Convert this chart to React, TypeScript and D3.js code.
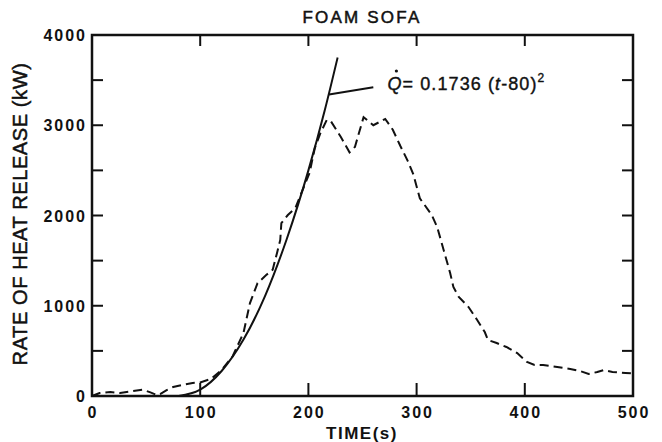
import React from 'react';
import * as d3 from 'd3';

// measured heat release curve (dashed)
const timeS = [0, 7, 17, 26, 38, 47, 54, 60, 63, 69, 75, 83, 93, 100, 110, 120, 130, 140, 146, 153, 161, 167, 171, 174, 175, 181, 188, 192, 201, 206, 211, 217, 221, 230, 238, 243, 251, 260, 271, 278, 285, 292, 297, 303, 314, 319, 325, 331, 334, 339, 348, 356, 363, 366, 374, 383, 393, 402, 409, 417, 430, 442, 451, 459, 467, 473, 481, 493, 500];
const hrrKW = [0, 33, 44, 33, 55, 70, 40, 11, 22, 66, 100, 122, 144, 150, 190, 290, 440, 700, 1030, 1250, 1340, 1400, 1585, 1730, 1915, 2005, 2084, 2205, 2470, 2750, 2910, 3060, 3040, 2870, 2700, 2760, 3090, 3000, 3070, 2950, 2770, 2600, 2455, 2190, 2006, 1873, 1618, 1363, 1208, 1097, 986, 842, 709, 620, 587, 543, 476, 377, 343, 343, 321, 299, 277, 244, 266, 288, 266, 255, 250];

// t-squared fit curve (solid)
const fitTimeS = [80, 100, 120, 140, 160, 180, 200, 215, 227];
const fitKW = [0, 70, 280, 625, 1110, 1740, 2500, 3160, 3750];

// leader line from the fit to the label
const leaderTimeS = [219, 260];
const leaderKW = [3340, 3420];

const xTicks = [0, 100, 200, 300, 400, 500];
const yTicks = [0, 500, 1000, 1500, 2000, 2500, 3000, 3500, 4000];
const yLabels = [0, 1000, 2000, 3000, 4000];

const font = '"Liberation Sans", Arial, sans-serif';

export default function App() {
  const width = 662;
  const height = 442;
  const x = d3.scaleLinear().domain([0, 500]).range([92, 633]);
  const y = d3.scaleLinear().domain([0, 4000]).range([396, 35]);

  const line = d3.line<[number, number]>()
    .x(d => x(d[0]))
    .y(d => y(d[1]));

  const dataPath = line(timeS.map((t, i) => [t, hrrKW[i]] as [number, number]));
  const fitPath = d3.line<[number, number]>()
    .curve(d3.curveMonotoneX)
    .x(d => x(d[0]))
    .y(d => y(d[1]))(fitTimeS.map((t, i) => [t, fitKW[i]] as [number, number]));

  const tickLen = 11;
  const boldText = { fontFamily: font, fontWeight: 700, fill: '#111' } as React.CSSProperties;
  // regular face thickened a little, like the scanned medium type
  const medText = { fontFamily: font, fontWeight: 400, fill: '#111', stroke: '#111', strokeWidth: 0.5 } as React.CSSProperties;

  const eqX = x(273);

  return (
    <svg width={width} height={height} style={{ position: 'absolute', left: 0, top: 0, background: '#fff' }}>
      {/* title */}
      <text x={362} y={23} textAnchor="middle" fontSize={17} letterSpacing={2.2} style={medText}>
        FOAM SOFA
      </text>

      {/* frame */}
      <rect x={x(0)} y={y(4000)} width={x(500) - x(0)} height={y(0) - y(4000)} fill="none" stroke="#111" strokeWidth={2.5} />

      {/* ticks */}
      <g stroke="#111" strokeWidth={2}>
        {xTicks.slice(1, -1).map(t => (
          <g key={'xt' + t}>
            <line x1={x(t)} x2={x(t)} y1={y(0)} y2={y(0) - tickLen - 2} />
            <line x1={x(t)} x2={x(t)} y1={y(4000)} y2={y(4000) + tickLen} />
          </g>
        ))}
        {yTicks.slice(1, -1).map(v => (
          <g key={'yt' + v}>
            <line x1={x(0)} x2={x(0) + tickLen} y1={y(v)} y2={y(v)} />
            <line x1={x(500)} x2={x(500) - tickLen} y1={y(v)} y2={y(v)} />
          </g>
        ))}
      </g>

      {/* tick labels */}
      {xTicks.map(t => (
        <text key={'xl' + t} x={x(t) + 1} y={418} textAnchor="middle" fontSize={16} letterSpacing={2} style={boldText}>
          {t}
        </text>
      ))}
      {yLabels.map(v => (
        <text key={'yl' + v} x={87} y={y(v) + 6} textAnchor="end" fontSize={16} letterSpacing={2} style={boldText}>
          {v}
        </text>
      ))}

      {/* axis titles */}
      <text x={362} y={439} textAnchor="middle" fontSize={17} letterSpacing={1.5} style={boldText}>
        TIME(s)
      </text>
      <text transform={`translate(27,${214}) rotate(-90)`} textAnchor="middle" fontSize={20} letterSpacing={0.6} style={medText}>
        RATE OF HEAT RELEASE (kW)
      </text>

      {/* data */}
      <path d={dataPath || ''} fill="none" stroke="#111" strokeWidth={2} strokeDasharray="9,5" />
      <path d={fitPath || ''} fill="none" stroke="#111" strokeWidth={2} />
      <line
        x1={x(leaderTimeS[0])} y1={y(leaderKW[0])}
        x2={x(leaderTimeS[1])} y2={y(leaderKW[1])}
        stroke="#111" strokeWidth={2}
      />

      {/* equation */}
      <text x={eqX} y={90} fontSize={18} letterSpacing={1.1} style={{ ...medText, strokeWidth: 0.4 }}>
        <tspan fontStyle="italic">Q</tspan>
        <tspan>= 0.1736 (</tspan>
        <tspan fontStyle="italic">t</tspan>
        <tspan>-80)</tspan>
        <tspan dy={-8} fontSize={12}>2</tspan>
      </text>
      <circle cx={eqX + 9} cy={71} r={1.6} fill="#111" />
    </svg>
  );
}
